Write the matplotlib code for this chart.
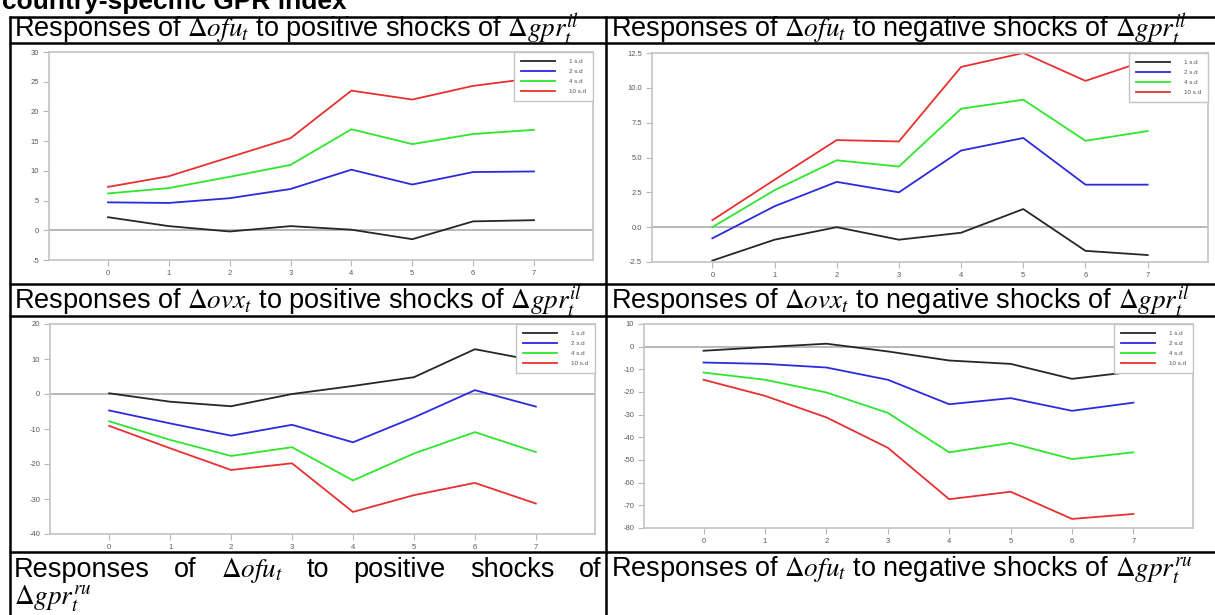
import matplotlib.pyplot as plt

plt.rcParams['font.family'] = ['Liberation Sans', 'DejaVu Sans']
plt.rcParams['mathtext.fontset'] = 'stix'

# impulse horizons and shock sizes
horizons = [0, 1, 2, 3, 4, 5, 6, 7]
shock_labels = ['1 s.d', '2 s.d', '4 s.d', '10 s.d']
line_colors = ['#262626', '#2b2bdd', '#2ee62e', '#e83030']

# responses of dOFU to positive shocks of dGPR (il)
ofu_pos_1 = [2.2, 0.7, -0.2, 0.7, 0.1, -1.5, 1.5, 1.7]
ofu_pos_2 = [4.7, 4.6, 5.4, 6.95, 10.2, 7.7, 9.8, 9.9]
ofu_pos_4 = [6.2, 7.1, 9.0, 11.0, 17.0, 14.5, 16.2, 16.9]
ofu_pos_10 = [7.3, 9.1, 12.3, 15.5, 23.5, 22.0, 24.3, 25.6]

# responses of dOFU to negative shocks of dGPR (il)
ofu_neg_1 = [-2.4, -0.9, 0.0, -0.9, -0.4, 1.3, -1.7, -2.0]
ofu_neg_2 = [-0.8, 1.5, 3.25, 2.5, 5.5, 6.4, 3.05, 3.05]
ofu_neg_4 = [0.0, 2.65, 4.8, 4.35, 8.5, 9.15, 6.2, 6.9]
ofu_neg_10 = [0.5, 3.4, 6.25, 6.15, 11.5, 12.5, 10.5, 12.0]

# responses of dOVX to positive shocks of dGPR (il)
ovx_pos_1 = [0.2, -2.2, -3.5, 0.0, 2.3, 4.8, 12.8, 9.5]
ovx_pos_2 = [-4.7, -8.4, -11.9, -8.8, -13.8, -6.7, 1.1, -3.6]
ovx_pos_4 = [-7.8, -13.1, -17.7, -15.2, -24.7, -17.0, -10.9, -16.6]
ovx_pos_10 = [-9.1, -15.5, -21.7, -19.8, -33.7, -28.9, -25.4, -31.3]

# responses of dOVX to negative shocks of dGPR (il)
ovx_neg_1 = [-1.8, -0.2, 1.3, -2.1, -6.1, -7.6, -14.2, -11.0]
ovx_neg_2 = [-7.0, -7.6, -9.2, -14.6, -25.4, -22.7, -28.3, -24.7]
ovx_neg_4 = [-11.4, -14.6, -20.2, -29.2, -46.6, -42.5, -49.6, -46.6]
ovx_neg_10 = [-14.6, -21.7, -31.2, -44.6, -67.3, -64.0, -76.0, -73.8]

ofu_pos_ticks = [-5, 0, 5, 10, 15, 20, 25, 30]
ofu_neg_ticks = [-2.5, 0.0, 2.5, 5.0, 7.5, 10.0, 12.5]
ovx_pos_ticks = [-40, -30, -20, -10, 0, 10, 20]
ovx_neg_ticks = [-80, -70, -60, -50, -40, -30, -20, -10, 0, 10]

W, H = 1215, 615
fig = plt.figure(figsize=(W / 100, H / 100), dpi=100)

# background axes in pixel units for the table
bg = fig.add_axes([0, 0, 1, 1])
bg.set_xlim(0, W)
bg.set_ylim(H, 0)
bg.axis('off')

rows = [17, 43, 284, 316, 552]
for y in rows:
    bg.plot([9, W], [y, y], color='black', lw=1.8, solid_capstyle='butt')
for x in [10, 606]:
    bg.plot([x, x], [16, H], color='black', lw=1.8, solid_capstyle='butt')

bg.text(2, 9, 'country-specific GPR index', fontsize=19, fontweight='bold',
        va='baseline', ha='left')

fs = 19.5
ofu = r'$\Delta ofu_t$'
ovx = r'$\Delta ovx_t$'
il = r'$\Delta gpr_t^{il}$'
ru = r'$\Delta gpr_t^{ru}$'

bg.text(14, 38, 'Responses of ' + ofu + ' to positive shocks of ' + il, fontsize=fs, va='baseline')
bg.text(611, 38, 'Responses of ' + ofu + ' to negative shocks of ' + il, fontsize=fs, va='baseline')
bg.text(14, 310, 'Responses of ' + ovx + ' to positive shocks of ' + il, fontsize=fs, va='baseline')
bg.text(611, 310, 'Responses of ' + ovx + ' to negative shocks of ' + il, fontsize=fs, va='baseline')
bg.text(611, 577, 'Responses of ' + ofu + ' to negative shocks of ' + ru, fontsize=fs, va='baseline')

# justified first line of the bottom-left cell
words = ['Responses', 'of', ofu, 'to', 'positive', 'shocks', 'of']
renderer = fig.canvas.get_renderer()
texts = [bg.text(0, 577, w, fontsize=fs, va='baseline') for w in words]
widths = [t.get_window_extent(renderer).width for t in texts]
x0, x1 = 14, 601
gap = (x1 - x0 - sum(widths)) / (len(words) - 1)
xpos = x0
for t, w in zip(texts, widths):
    t.set_x(xpos)
    xpos += w + gap
bg.text(14, 605, ru, fontsize=fs, va='baseline')


def add_panel(box, series, ticks, ticklabels):
    left, top, right, bottom = box
    ax = fig.add_axes([left / W, 1 - bottom / H, (right - left) / W, (bottom - top) / H])
    ax.axhline(0, color='#ababab', lw=1.2, zorder=1)
    for vals, c, lab in zip(series, line_colors, shock_labels):
        ax.plot(horizons, vals, color=c, lw=1.3, label=lab, zorder=2)
    ax.set_xlim(-0.97, 7.97)
    ax.set_ylim(ticks[0], ticks[-1])
    ax.set_xticks(horizons)
    ax.set_yticks(ticks)
    ax.set_yticklabels(ticklabels)
    for s in ax.spines.values():
        s.set_color('#c4c4c4')
        s.set_linewidth(1.2)
    ax.tick_params(colors='#b8b8b8', labelcolor='#5a5a5a', labelsize=5.5,
                   length=4, width=0.8, direction='out', pad=3)
    leg = ax.legend(loc='upper right', borderaxespad=0, fontsize=4.5,
                    fancybox=False, edgecolor='#c4c4c4', framealpha=1,
                    handlelength=5.5, handletextpad=2.2, labelspacing=0.75,
                    borderpad=1.1)
    leg.get_frame().set_linewidth(1.0)
    for t in leg.get_texts():
        t.set_color('#555555')
    return ax


add_panel((49, 52, 593, 260), [ofu_pos_1, ofu_pos_2, ofu_pos_4, ofu_pos_10],
          ofu_pos_ticks, [str(v) for v in ofu_pos_ticks])
add_panel((652, 53, 1208, 262), [ofu_neg_1, ofu_neg_2, ofu_neg_4, ofu_neg_10],
          ofu_neg_ticks, ['%.1f' % v for v in ofu_neg_ticks])
add_panel((50, 324, 595, 534), [ovx_pos_1, ovx_pos_2, ovx_pos_4, ovx_pos_10],
          ovx_pos_ticks, [str(v) for v in ovx_pos_ticks])
add_panel((644, 324, 1193, 528), [ovx_neg_1, ovx_neg_2, ovx_neg_4, ovx_neg_10],
          ovx_neg_ticks, [str(v) for v in ovx_neg_ticks])

fig.savefig('out.png', dpi=100)
